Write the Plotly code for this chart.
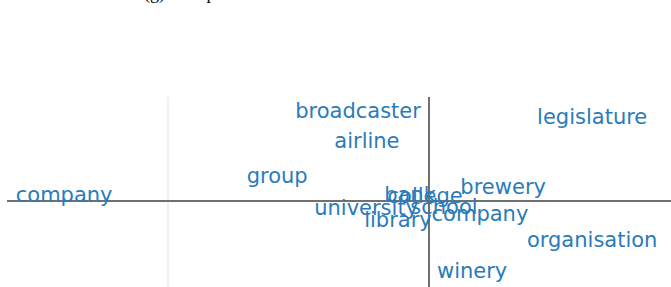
import plotly.graph_objects as go

words = ["company", "group", "broadcaster", "airline", "legislature", "brewery",
         "bank", "college", "university", "school", "library", "company",
         "organisation", "winery"]
xs = [-1.398, -0.582, -0.272, -0.238, 0.625, 0.284,
      -0.073, -0.015, -0.241, 0.057, -0.119, 0.195,
      0.625, 0.165]
ys = [0.017, 0.089, 0.339, 0.223, 0.316, 0.048,
      0.015, 0.011, -0.034, -0.031, -0.080, -0.056,
      -0.157, -0.274]
caption = "(g) Group"

fig = go.Figure(go.Scatter(
    x=xs, y=ys, text=words, mode="text",
    textposition="middle center",
    textfont=dict(family="DejaVu Sans", size=21, color="#2b7bba"),
    cliponaxis=False, hoverinfo="skip",
))

fig.update_layout(
    width=671, height=287,
    margin=dict(l=7, r=0, t=97, b=0),
    paper_bgcolor="white", plot_bgcolor="white",
    showlegend=False,
    xaxis=dict(range=[-1.617, 0.927], tickmode="linear", tick0=0, dtick=1,
               showgrid=True, gridcolor="#f0f0f0", gridwidth=2,
               zeroline=True, zerolinecolor="#707070", zerolinewidth=2,
               showticklabels=False, showline=False, ticks=""),
    yaxis=dict(range=[-0.330, 0.398], tickmode="linear", tick0=0, dtick=1,
               showgrid=True, gridcolor="#f0f0f0", gridwidth=2,
               zeroline=True, zerolinecolor="#707070", zerolinewidth=2,
               showticklabels=False, showline=False, ticks=""),
    annotations=[dict(text=caption, xref="paper", yref="paper",
                      x=0.203, y=1.479, xanchor="left", yanchor="bottom",
                      showarrow=False,
                      font=dict(family="Liberation Serif", size=18, color="black"))],
)

fig.write_html("out.html",
               config={"displayModeBar": False, "staticPlot": True},
               post_script="document.body.style.margin='0';document.body.style.overflow='hidden';")
